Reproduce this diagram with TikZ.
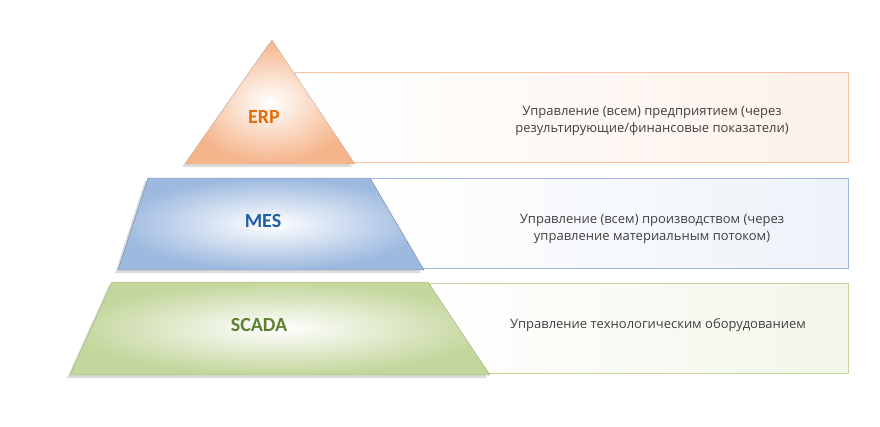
\documentclass[tikz,border=0pt]{standalone}
\usepackage{fontspec}
\setmainfont{Open Sans}
\newfontfamily\lab{Carlito}
\definecolor{erpC}{HTML}{F5B48A}
\definecolor{erpT}{HTML}{E46C0A}
\definecolor{mesC}{HTML}{9DB9DF}
\definecolor{mesT}{HTML}{1F5FA8}
\definecolor{scC}{HTML}{C3D69B}
\definecolor{scT}{HTML}{5F7F33}
\tikzset{
 band/.style={line width=0.8pt},
 shd/.style={fill=black!30,opacity=0.45},
 desc/.style={font=\fontsize{13pt}{17pt}\selectfont, text=black!75, align=center},
 lvl/.style={font=\lab\bfseries\fontsize{20pt}{22pt}\selectfont},
}
\begin{document}
\begin{tikzpicture}[x=1pt,y=-1pt]
\useasboundingbox (0,0) rectangle (880,426);
% rectangles
\draw[band,draw=erpC!80,left color=white,right color=erpC!18] (295,72) rectangle (848,162);
\draw[band,draw=mesC,left color=white,right color=mesC!18] (370,178) rectangle (848,268);
\draw[band,draw=scC,left color=white,right color=scC!22] (430,283) rectangle (848,373);
% pyramid shadows
\path[shd] (269,43) -- (352,167) -- (182,167) -- cycle;
\path[shd] (145,181) -- (367,181) -- (421,273) -- (115,273) -- cycle;
\path[shd] (109,285) -- (425,285) -- (487,378) -- (67,378) -- cycle;
% pyramid
\shade[inner color=white,outer color=erpC,draw=erpC!70!black!60] (272,40) -- (355,164) -- (185,164) -- cycle;
\shade[inner color=white,outer color=mesC,draw=mesC!70!black] (148,178) -- (370,178) -- (424,270) -- (118,270) -- cycle;
\shade[inner color=white,outer color=scC,draw=scC!80!black] (112,282) -- (428,282) -- (490,375) -- (70,375) -- cycle;
% labels
\node[lvl,text=erpT] (erp) at (264,117) {ERP};
\node[lvl,text=mesT] (mes) at (263,221) {MES};
\node[lvl,text=scT] (scada) at (259,325) {SCADA};
\node[desc] (d1) at (652,121) {Управление (всем) предприятием (через\\результирующие/финансовые показатели)};
\node[desc] (d2) at (652,229) {Управление (всем) производством (через\\управление материальным потоком)};
\node[desc] (d3) at (658,325) {Управление технологическим оборудованием};
\end{tikzpicture}
\end{document}
